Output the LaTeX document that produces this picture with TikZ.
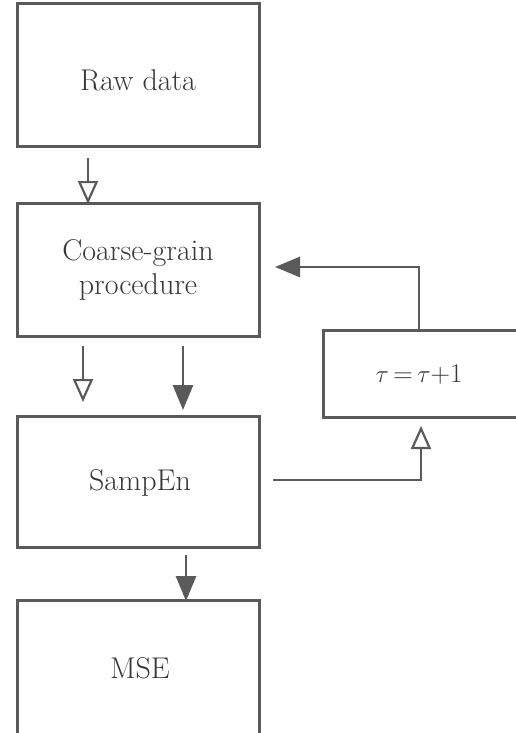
\documentclass[tikz,border=0pt]{standalone}
\usetikzlibrary{arrows.meta}
\definecolor{lc}{HTML}{5A5A5A}
\definecolor{tc}{HTML}{383838}
\begin{document}
\begin{tikzpicture}[x=1pt,y=-1pt,
  box/.style={draw=lc, line width=3pt, fill=white},
  lbl/.style={text=tc, font=\fontsize{30}{34}\selectfont, align=center},
  conn/.style={draw=lc, line width=2.8pt},
  opentip/.style={-{Triangle[open, length=23pt, width=20pt, line width=2.2pt]}},
  fulltip/.style={-{Triangle[length=25pt, width=20pt, fill=lc]}}]
\useasboundingbox (0,0) rectangle (515,733);
\fill[white] (0,0) rectangle (515,733);
% boxes
\draw[box] (17,4) rectangle (259,146);
\draw[box] (17,203) rectangle (259,336);
\draw[box] (17,416) rectangle (259,547);
\draw[box] (17,600) rectangle (259,740);
\draw[box] (323,330) rectangle (520,417);
% nodes (centres)
\node[lbl] (raw) at (138,80) {Raw data};
\node[lbl] (cg) at (138,270) {Coarse-grain\\procedure};
\node[lbl] (se) at (140,483) {SampEn};
\node[lbl] (mse) at (140,668) {MSE};
\node[lbl, font=\fontsize{27}{30}\selectfont] (tau) at (419,374) {$\tau$\,=\,$\tau$+1};
% named coordinates
\coordinate (a1) at (88,158);
\coordinate (a2) at (88,204);
\coordinate (b1) at (83,346);
\coordinate (b2) at (83,402);
\coordinate (c1) at (183,346);
\coordinate (c2) at (183,410);
\coordinate (d1) at (186,555);
\coordinate (d2) at (186,601);
\coordinate (e1) at (273,480);
\coordinate (e2) at (421,480);
\coordinate (e3) at (421,426);
\coordinate (f1) at (419,330);
\coordinate (f2) at (419,267);
\coordinate (f3) at (275,267);
% connectors
\draw[conn, opentip] (a1) -- (a2);
\draw[conn, opentip] (b1) -- (b2);
\draw[conn, fulltip] (c1) -- (c2);
\draw[conn, fulltip] (d1) -- (d2);
\draw[conn, opentip] (e1) -- (e2) -- (e3);
\draw[conn, fulltip] (f1) -- (f2) -- (f3);
\end{tikzpicture}
\end{document}
